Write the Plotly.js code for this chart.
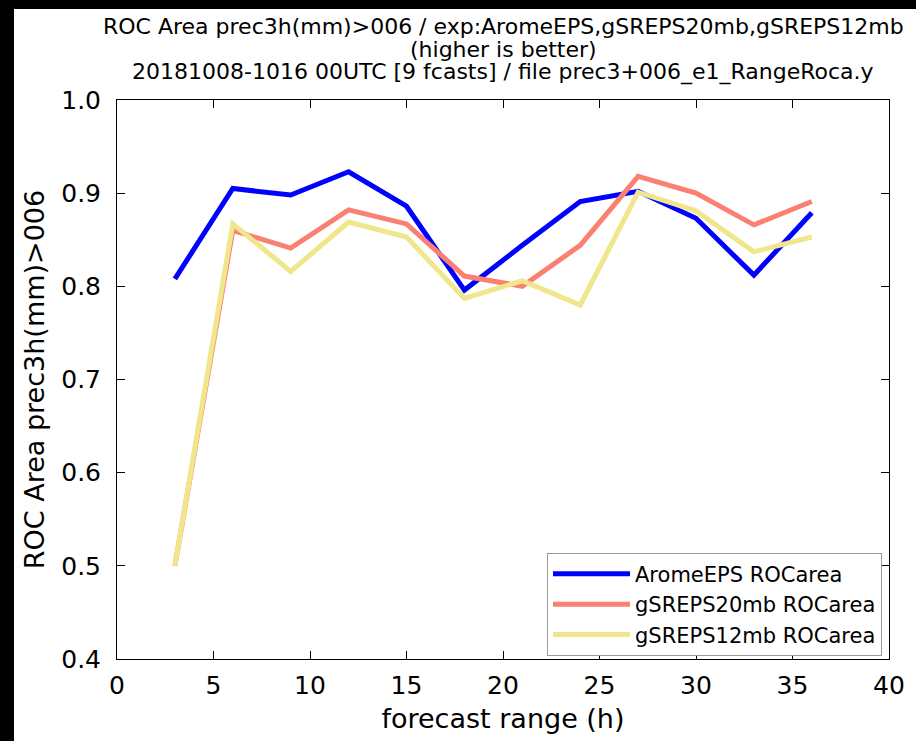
<!DOCTYPE html>
<html>
<head>
<meta charset="utf-8">
<script src="https://cdn.plot.ly/plotly-3.0.1.min.js"></script>
<style>
  html, body { margin: 0; padding: 0; background: #000; }
  #frame { position: absolute; left: 0; top: 0; width: 916px; height: 741px; background: #000; }
  #chart { position: absolute; left: 14px; top: 9px; width: 902px; height: 732px; background: #fff; }
</style>
</head>
<body>
<div id="frame"><div id="chart"></div></div>
<script>
// forecast ranges (h)
const ranges = [3, 6, 9, 12, 15, 18, 21, 24, 27, 30, 33, 36];

// ROC area per experiment
const aromeEPS   = [0.808, 0.905, 0.898, 0.923, 0.886, 0.796, 0.844, 0.891, 0.902, 0.873, 0.812, 0.879];
const gSREPS20mb = [0.500, 0.860, 0.841, 0.882, 0.867, 0.811, 0.800, 0.844, 0.918, 0.900, 0.866, 0.891];
const gSREPS12mb = [0.500, 0.867, 0.816, 0.869, 0.853, 0.787, 0.806, 0.780, 0.901, 0.881, 0.837, 0.853];

const seriesNames = ['AromeEPS ROCarea', 'gSREPS20mb ROCarea', 'gSREPS12mb ROCarea'];
const seriesColors = ['#0000ff', '#fa8072', '#f0e68c'];

const xTicks = [0, 5, 10, 15, 20, 25, 30, 35, 40];
const yTicks = [0.4, 0.5, 0.6, 0.7, 0.8, 0.9, 1.0];
const yTickText = ['0.4', '0.5', '0.6', '0.7', '0.8', '0.9', '1.0'];

// three title lines, stacked above the plot frame
const titleLines = [
  'ROC Area prec3h(mm)>006 / exp:AromeEPS,gSREPS20mb,gSREPS12mb',
  '(higher is better)',
  '20181008-1016 00UTC [9 fcasts] / file prec3+006_e1_RangeRoca.y'
];
const titleLineY = [1.1306, 1.0912, 1.0501];

const FONT = 'DejaVu Sans, sans-serif';

const traces = [aromeEPS, gSREPS20mb, gSREPS12mb].map((ys, i) => ({
  x: ranges,
  y: ys,
  type: 'scatter',
  mode: 'lines',
  name: seriesNames[i],
  line: { color: seriesColors[i], width: 5 }
}));

const axisCommon = {
  showgrid: false,
  zeroline: false,
  showline: true,
  linecolor: '#000',
  linewidth: 1,
  mirror: 'ticks',
  ticks: 'inside',
  ticklen: 8,
  tickwidth: 1,
  tickcolor: '#000',
  tickfont: { family: FONT, size: 25, color: '#000' }
};

const layout = {
  width: 902,
  height: 732,
  margin: { l: 103, r: 27, t: 91, b: 82 },
  paper_bgcolor: '#fff',
  plot_bgcolor: '#fff',
  font: { family: FONT, color: '#000' },
  annotations: titleLines.map((t, i) => ({
    text: t,
    xref: 'paper',
    yref: 'paper',
    x: 0.5,
    y: titleLineY[i],
    xanchor: 'center',
    yanchor: 'middle',
    showarrow: false,
    font: { family: FONT, size: 22, color: '#000' }
  })),
  xaxis: Object.assign({}, axisCommon, {
    range: [0, 40],
    tickvals: xTicks,
    ticklabelstandoff: 4,
    title: { text: 'forecast range (h)', font: { family: FONT, size: 27, color: '#000' }, standoff: 10 }
  }),
  yaxis: Object.assign({}, axisCommon, {
    range: [0.4, 1.0],
    tickvals: yTicks,
    ticktext: yTickText,
    ticklabelstandoff: 10,
    title: { text: 'ROC Area prec3h(mm)>006', font: { family: FONT, size: 27, color: '#000' }, standoff: 8 }
  }),
  showlegend: true,
  legend: {
    x: 0.557,
    y: 0.098,
    xanchor: 'left',
    yanchor: 'middle',
    bgcolor: '#fff',
    bordercolor: '#999',
    borderwidth: 1,
    font: { family: FONT, size: 21, color: '#000' },
    itemwidth: 77
  }
};

Plotly.newPlot('chart', traces, layout, { displayModeBar: false, staticPlot: true });
</script>
</body>
</html>
